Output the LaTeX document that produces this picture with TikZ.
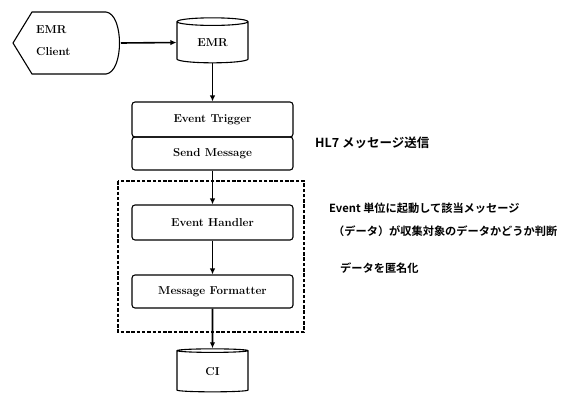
\documentclass[tikz,border=0pt]{standalone}
\usepackage{fontspec}
\newfontfamily\jpfont{Noto Sans CJK JP}[BoldFont={* Bold}]
\usetikzlibrary{shapes.geometric,arrows.meta}
\begin{document}
\begin{tikzpicture}[x=1pt,y=-1pt,
  lbl/.style={font=\fontsize{11.5}{13}\selectfont\bfseries},
  box/.style={draw,line width=1.1pt,rounded corners=3pt,minimum width=161pt,lbl,inner sep=0pt},
  db/.style={draw,line width=1.1pt,cylinder,shape border rotate=90,aspect=0.25,minimum width=71pt,lbl,inner sep=0pt},
  conn/.style={line width=1.6pt,-{Latex[length=6pt,width=5.5pt]}},
  group/.style={line width=1.1pt,dash pattern=on 3.5pt off 1.8pt},
  note/.style={anchor=west,inner sep=0pt,font=\jpfont\fontsize{11.2}{13}\selectfont\bfseries}]
\useasboundingbox (0,0) rectangle (561,394);
% EMR Client display shape
\node[inner sep=0pt,minimum width=108pt,minimum height=62pt] (client) at (66,43) {};
\draw[line width=1.1pt] (13,43) -- (32,12) -- (106,12) .. controls (124,14) and (124,72) .. (106,74) -- (32,74) -- cycle;
\node[lbl,anchor=west,inner sep=0pt] (clientA) at (36,30) {EMR};
\node[lbl,anchor=west,inner sep=0pt] (clientB) at (36,52) {Client};
% EMR database
\node[db,minimum height=45pt] (emr) at (212.5,42.5) {EMR};
% Event trigger / send message
\node[box,minimum height=35pt] (trig) at (212.5,119.5) {Event Trigger};
\node[box,minimum height=33pt] (send) at (212.5,153.5) {Send Message};
% dashed group
\draw[group] (118,181) rectangle (304,332);
\node[box,minimum height=35pt] (hand) at (212.5,222.5) {Event Handler};
\node[box,minimum height=33pt] (fmt) at (212.5,291.5) {Message Formatter};
% CI database
\node[db,minimum height=43pt] (ci) at (212.5,371.5) {CI};
% connectors
\coordinate (cr) at (121,43);
\draw[conn] (cr) -- (emr.west);
\draw[conn] (emr.south) -- (trig.north);
\draw[conn] (send.south) -- (hand.north);
\draw[conn] (hand.south) -- (fmt.north);
\draw[conn] (fmt.south) -- (ci.north);
% notes
\node[note,font=\jpfont\fontsize{12.5}{14}\selectfont\bfseries] (n1) at (315,143) {HL7 メッセージ送信};
\node[note] (n2) at (329,208) {Event 単位に起動して該当メッセージ};
\node[note] (n3) at (333,231) {（データ）が収集対象のデータかどうか判断};
\node[note] (n4) at (340,268) {データを匿名化};
\end{tikzpicture}
\end{document}
